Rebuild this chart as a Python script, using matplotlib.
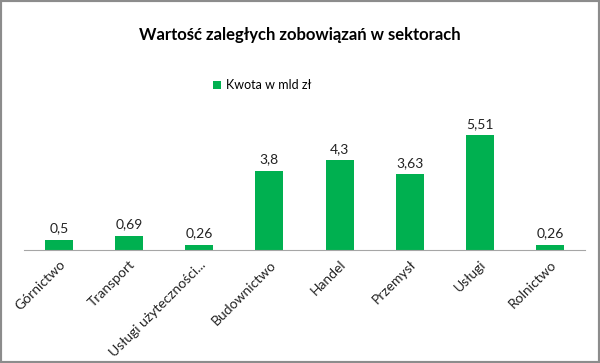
import matplotlib.pyplot as plt
from matplotlib.patches import Rectangle

# dane
sektory = ["Górnictwo", "Transport", "Usługi użyteczności...", "Budownictwo",
           "Handel", "Przemysł", "Usługi", "Rolnictwo"]
kwota = [0.5, 0.69, 0.26, 3.8, 4.3, 3.63, 5.51, 0.26]
etykiety = ["0,5", "0,69", "0,26", "3,8", "4,3", "3,63", "5,51", "0,26"]

plt.rcParams['font.family'] = ['Lato', 'DejaVu Sans']

fig = plt.figure(figsize=(6, 3.63), dpi=100)
ax = fig.add_axes([0.04, 0.311, 0.935, 0.345])

x = range(len(sektory))
bars = ax.bar(x, kwota, width=0.4, color="#00B050", label="Kwota w mld zł")
for b, t in zip(bars, etykiety):
    ax.text(b.get_x() + b.get_width() / 2, b.get_height() + 0.25, t,
            ha="center", va="bottom", fontsize=10, color="#222222")

ax.set_xlim(-0.5, len(sektory) - 0.5)
ax.set_ylim(0, 6)
ax.set_yticks([])
for s in ["top", "right", "left"]:
    ax.spines[s].set_visible(False)
ax.spines["bottom"].set_color("#A6A6A6")
ax.set_xticks(list(x))
ax.set_xticklabels(sektory, rotation=45, ha="right", rotation_mode="anchor",
                   fontsize=10, color="#222222")
ax.tick_params(axis="x", length=0, pad=6)

fig.text(0.5, 0.904, "Wartość zaległych zobowiązań w sektorach",
         ha="center", va="center", fontsize=12, fontweight="bold")
fig.legend(loc="center", bbox_to_anchor=(0.437, 0.765), frameon=False,
           fontsize=9, handlelength=0.7, handleheight=0.7, handletextpad=0.4)

fig.patches.append(Rectangle((0, 0), 1, 1, transform=fig.transFigure,
                             fill=False, edgecolor="#8C8C8C", linewidth=3))

fig.savefig("out.png", dpi=100)
